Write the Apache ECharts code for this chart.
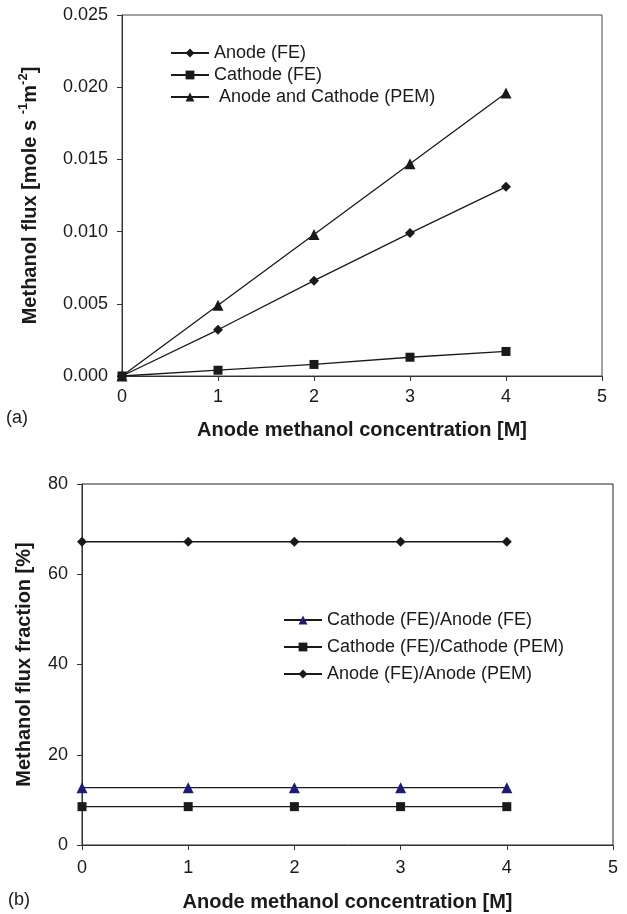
<!DOCTYPE html>
<html>
<head>
<meta charset="utf-8">
<script src="https://cdn.jsdelivr.net/npm/echarts@6/dist/echarts.min.js"></script>
<style>
  html, body { margin: 0; padding: 0; background: #fff; }
  #main { width: 627px; height: 914px; }
</style>
</head>
<body>
<div id="main"></div>
<script>
// concentration [M]
const conc = [0, 1, 2, 3, 4];

// (a) methanol flux [mole s-1 m-2]
const anodeFE = [0, 0.0032, 0.0066, 0.0099, 0.0131];
const cathodeFE = [0, 0.0004, 0.0008, 0.0013, 0.0017];
const anodeCathodePEM = [0, 0.0049, 0.0098, 0.0147, 0.0196];

// (b) methanol flux fraction [%]
const cathodeOverAnode = [12.7, 12.7, 12.7, 12.7, 12.7];
const cathodeOverCathodePEM = [8.5, 8.5, 8.5, 8.5, 8.5];
const anodeOverAnodePEM = [67.2, 67.2, 67.2, 67.2, 67.2];

const namesA = ["Anode (FE)", "Cathode (FE)", " Anode and Cathode (PEM)"];
const namesB = ["Cathode (FE)/Anode (FE)", "Cathode (FE)/Cathode (PEM)", "Anode (FE)/Anode (PEM)"];

const font = "'Liberation Sans', Arial, sans-serif";
const ink = "#1a1a1a";
const navy = "#1c1c78";

function pairs(ys) {
    return conc.map((x, i) => [x, ys[i]]);
}

function lineSeries(name, ys, symbol, size, axis, color) {
    return {
        name: name,
        type: "line",
        xAxisIndex: axis,
        yAxisIndex: axis,
        data: pairs(ys),
        symbol: symbol,
        symbolSize: size,
        showAllSymbol: true,
        clip: false,
        lineStyle: { color: ink, width: 1.3 },
        itemStyle: { color: color || ink },
        emphasis: { disabled: true }
    };
}

const axisCommon = {
    type: "value",
    axisLine: { show: true, lineStyle: { color: "#333", width: 1 } },
    axisTick: { show: true, inside: false, length: 5, lineStyle: { color: "#333" } },
    splitLine: { show: false },
    axisLabel: { color: ink, fontSize: 18, fontFamily: font },
    nameLocation: "middle",
    nameTextStyle: { color: ink, fontSize: 20, fontWeight: "bold", fontFamily: font }
};

const chart = echarts.init(document.getElementById("main"));
chart.setOption({
    animation: false,
    backgroundColor: "#fff",
    textStyle: { fontFamily: font },
    grid: [
        { left: 122, top: 15, width: 480, height: 361, show: true, borderColor: "#444", borderWidth: 1 },
        { left: 82, top: 484, width: 531, height: 361, show: true, borderColor: "#222", borderWidth: 1 }
    ],
    graphic: [
        { type: "text", left: 6, top: 409, style: { text: "(a)", fontSize: 18, fontFamily: font, fill: ink } },
        { type: "text", left: 8, top: 891, style: { text: "(b)", fontSize: 18, fontFamily: font, fill: ink } }
    ],
    legend: [
        {
            data: namesA, orient: "vertical", left: 165, top: 39,
            itemWidth: 38, itemHeight: 11, itemGap: 4,
            selectedMode: false,
            textStyle: { color: ink, fontSize: 18, fontFamily: font }
        },
        {
            data: namesB, orient: "vertical", left: 278, top: 606,
            itemWidth: 38, itemHeight: 11, itemGap: 9,
            selectedMode: false,
            textStyle: { color: ink, fontSize: 18, fontFamily: font }
        }
    ],
    xAxis: [
        Object.assign({}, axisCommon, {
            gridIndex: 0, min: 0, max: 5, interval: 1,
            axisLabel: Object.assign({}, axisCommon.axisLabel, { margin: 12 }),
            name: "Anode methanol concentration [M]", nameGap: 44
        }),
        Object.assign({}, axisCommon, {
            gridIndex: 1, min: 0, max: 5, interval: 1,
            axisLabel: Object.assign({}, axisCommon.axisLabel, { margin: 14 }),
            name: "Anode methanol concentration [M]", nameGap: 47
        })
    ],
    yAxis: [
        Object.assign({}, axisCommon, {
            gridIndex: 0, min: 0, max: 0.025, interval: 0.005,
            axisLabel: Object.assign({}, axisCommon.axisLabel, {
                margin: 14,
                formatter: v => v.toFixed(3)
            }),
            name: "Methanol flux [mole s {sup|-1}m{sup|-2}]", nameGap: 79,
            nameTextStyle: Object.assign({}, axisCommon.nameTextStyle, {
                lineHeight: 26,
                rich: {
                    sup: { fontSize: 13, fontWeight: "bold", fontFamily: font, color: ink, verticalAlign: "top", lineHeight: 14 }
                }
            })
        }),
        Object.assign({}, axisCommon, {
            gridIndex: 1, min: 0, max: 80, interval: 20,
            axisLabel: Object.assign({}, axisCommon.axisLabel, { margin: 14 }),
            name: "Methanol flux fraction [%]", nameGap: 48
        })
    ],
    series: [
        lineSeries(namesA[0], anodeFE, "diamond", 10, 0),
        lineSeries(namesA[1], cathodeFE, "rect", 9, 0),
        lineSeries(namesA[2], anodeCathodePEM, "triangle", 11, 0),
        lineSeries(namesB[0], cathodeOverAnode, "triangle", 11, 1, navy),
        lineSeries(namesB[1], cathodeOverCathodePEM, "rect", 9, 1),
        lineSeries(namesB[2], anodeOverAnodePEM, "diamond", 10, 1)
    ]
});
</script>
</body>
</html>
